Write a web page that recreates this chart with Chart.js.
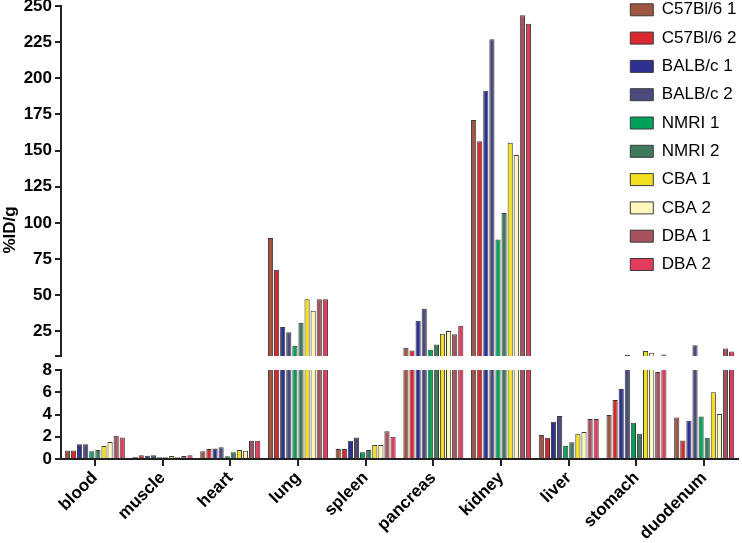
<!DOCTYPE html>
<html>
<head>
<meta charset="utf-8">
<script src="https://cdn.jsdelivr.net/npm/chart.js"></script>
<style>
  html, body { margin: 0; padding: 0; background: #fff; }
  #wrap { position: relative; width: 742px; height: 543px; overflow: hidden; }
  #top { position: absolute; left: 0; top: 0; }
  #bottom { position: absolute; left: 0; top: 361px; }
</style>
</head>
<body>
<div id="wrap">
  <canvas id="top" width="742" height="460"></canvas>
  <canvas id="bottom" width="742" height="182"></canvas>
</div>
<script>
// organs on the x axis
const organs = ['blood', 'muscle', 'heart', 'lung', 'spleen', 'pancreas', 'kidney', 'liver', 'stomach', 'duodenum']

// %ID/g per mouse strain (same order as organs)
const c57bl6_1 = [0.77, 0.18, 0.7, 89.6, 0.9, 13.7, 171.1, 2.15, 3.96, 3.74]
const c57bl6_2 = [0.77, 0.34, 0.9, 67.7, 0.9, 11.8, 156.4, 1.9, 5.3, 1.66]
const balbc_1 = [1.32, 0.3, 0.95, 28, 1.65, 32.4, 191.4, 3.34, 6.3, 3.44]
const balbc_2 = [1.32, 0.34, 1.05, 24.5, 1.93, 40.7, 227, 3.87, 8.9, 15.5]
const nmri_1 = [0.7, 0.15, 0.25, 15.1, 0.6, 12.3, 88.5, 1.2, 3.25, 3.83]
const nmri_2 = [0.8, 0.15, 0.6, 31, 0.8, 16, 106.9, 1.5, 2.27, 1.9]
const cba_1 = [1.17, 0.28, 0.8, 47.2, 1.26, 23.4, 155.4, 2.27, 11.4, 6.0]
const cba_2 = [1.53, 0.18, 0.75, 39.3, 1.26, 25.2, 146.9, 2.42, 10.3, 4.05]
const dba_1 = [2.1, 0.28, 1.63, 47.2, 2.5, 23.1, 243.6, 3.6, 7.82, 13.2]
const dba_2 = [1.93, 0.34, 1.63, 47.2, 2.0, 29, 237.8, 3.6, 9.1, 11.1]

const seriesNames = ['C57Bl/6 1', 'C57Bl/6 2', 'BALB/c 1', 'BALB/c 2', 'NMRI 1', 'NMRI 2', 'CBA 1', 'CBA 2', 'DBA 1', 'DBA 2']
const seriesValues = [c57bl6_1, c57bl6_2, balbc_1, balbc_2, nmri_1, nmri_2, cba_1, cba_2, dba_1, dba_2]
const seriesColors = ['#a05541', '#d9272e', '#2e3192', '#4b4a7d', '#00a05a', '#3f7a5c', '#f2e01f', '#fff7bb', '#a5525e', '#e23c5c']

// broken y axis: upper segment and lower segment
const upperTicks = [25, 50, 75, 100, 125, 150, 175, 200, 225, 250]
const lowerTicks = [0, 2, 4, 6, 8]
const breakAt = 8

Chart.defaults.font.family = "'Liberation Sans', Arial, sans-serif"
Chart.defaults.color = '#000'

const makeSets = () => seriesNames.map((name, i) => ({
  label: name,
  data: seriesValues[i],
  backgroundColor: seriesColors[i],
  borderColor: '#3a3a3a',
  borderWidth: 1,
  clip: 0,
  categoryPercentage: 0.9,
  barPercentage: 0.85
}))

const axisFont = { size: 17, weight: 'bold' }
const axisGrid = { display: true, drawOnChartArea: false, drawTicks: true, tickLength: 6, color: '#222', lineWidth: 2 }
const axisBorder = { display: true, color: '#222', width: 2 }

// put the legend in the top right corner, over the plot
const legendMover = {
  id: 'legendMover',
  afterLayout(chart) {
    const lg = chart.legend
    lg.left = 619
    lg.right = lg.left + lg.width
    lg.top = -10
    lg.bottom = lg.top + lg.height
  }
}

new Chart(document.getElementById('top'), {
  type: 'bar',
  data: { labels: organs, datasets: makeSets() },
  options: {
    responsive: false,
    animation: false,
    layout: { padding: { right: 4 } },
    plugins: {
      title: { display: true, text: '%ID/g', position: 'left', font: axisFont, color: '#000', padding: 0 },
      legend: {
        position: 'chartArea',
        align: 'start',
        labels: { boxWidth: 23, boxHeight: 12, padding: 11.3, font: { size: 17 }, color: '#000' }
      },
      tooltip: { enabled: false }
    },
    scales: {
      x: {
        grid: { display: false },
        border: { display: false },
        ticks: { display: false },
        afterFit: (s) => { s.height = 104 }
      },
      y: {
        min: breakAt,
        max: 250,
        afterBuildTicks: (s) => { s.ticks = [breakAt, ...upperTicks].map(v => ({ value: v })) },
        ticks: { autoSkip: false, font: axisFont, color: '#000', padding: 3, callback: (v) => v === breakAt ? '' : v },
        grid: axisGrid,
        border: axisBorder,
        afterFit: (s) => { s.width = 61 - 20.4; s.paddingTop = 6 }
      }
    }
  },
  plugins: [legendMover]
})

new Chart(document.getElementById('bottom'), {
  type: 'bar',
  data: { labels: organs, datasets: makeSets() },
  options: {
    responsive: false,
    animation: false,
    layout: { padding: { right: 4 } },
    plugins: {
      legend: { display: false },
      title: { display: false },
      tooltip: { enabled: false }
    },
    scales: {
      x: {
        grid: { display: true, offset: false, drawOnChartArea: false, tickLength: 7, color: '#222', lineWidth: 2 },
        border: axisBorder,
        ticks: { autoSkip: false, maxRotation: 45, minRotation: 45, font: axisFont, color: '#000', padding: 2 },
        afterFit: (s) => { s.height = 84 }
      },
      y: {
        min: 0,
        max: breakAt,
        afterBuildTicks: (s) => { s.ticks = lowerTicks.map(v => ({ value: v })) },
        ticks: { autoSkip: false, font: axisFont, color: '#000', padding: 3 },
        grid: axisGrid,
        border: axisBorder,
        afterFit: (s) => { s.width = 61; s.paddingTop = 9 }
      }
    }
  }
})
</script>
</body>
</html>
